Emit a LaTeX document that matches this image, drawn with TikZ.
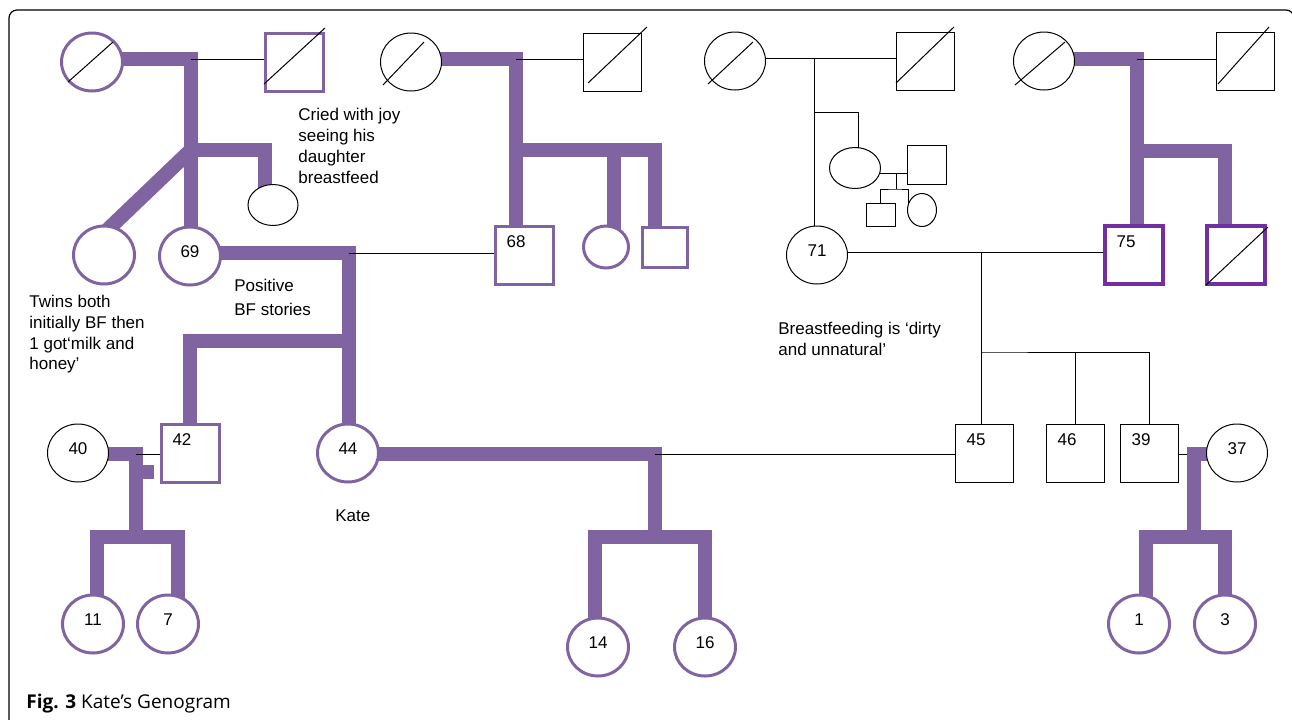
\documentclass[tikz,border=0pt]{standalone}
\usepackage{fontspec}
\setmainfont{Liberation Sans}
\newfontfamily\capfont{Open Sans}
\usetikzlibrary{shapes.geometric,backgrounds,calc}
\definecolor{famline}{HTML}{8064A2}
\definecolor{deep}{HTML}{7030A0}

\begin{document}
\begin{tikzpicture}[x=0.5pt, y=-0.5pt, font=\fontsize{8.5}{10.5}\selectfont,
      fem/.style={ellipse, draw, fill=white, inner sep=0pt, minimum width=30.5pt, minimum height=29pt, line width=0.5pt},
      pfem/.style={fem, draw=famline, line width=1.5pt},
      mal/.style={rectangle, draw, fill=white, inner sep=0pt, minimum size=29pt, line width=0.5pt},
      pmal/.style={mal, draw=famline, line width=1.5pt},
      dmal/.style={mal, draw=deep, line width=1.8pt},
      age/.style={label={[yshift=2pt]center:#1}},
      sqage/.style={label={[xshift=-4pt, yshift=6.5pt]center:#1}},
      fam/.style={draw=famline, line width=7.3pt},
      ln/.style={draw, line width=0.5pt},
      slash/.style={draw, line width=0.5pt},
      note/.style={anchor=north west, align=left, inner sep=0pt}]
      \useasboundingbox (0,0) rectangle (1292,719);
      \draw[line width=0.6pt, rounded corners=4pt] (9,730) -- (9,10) -- (1294,10) -- (1294,730);

      % Kate's mother's side
      \node[pfem] (kgm)  at (92,62)   {};
      \node[pmal] (kgf)  at (294,62)  {};
      \node[pfem] (twin) at (104,255) {};
      \node[pfem, age=69] (mum) at (190,256) {};
      \node[fem, minimum width=25pt, minimum height=20.5pt] (aunt) at (273,205) {};
      % Kate's father's side
      \node[fem] (pgm) at (411,62)  {};
      \node[mal] (pgf) at (612,62)  {};
      \node[pmal, sqage=68] (dad) at (524,255) {};
      \node[pfem, minimum width=22.5pt, minimum height=21pt] (dsis) at (606,247) {};
      \node[pmal, minimum width=22.5pt, minimum height=20pt] (dbro) at (665,247.5) {};
      % husband's mother's side
      \node[fem] (hgm1) at (735,61)  {};
      \node[mal] (hgf1) at (925,61)  {};
      \node[fem, age=71] (hmum) at (817,255) {};
      \node[fem, minimum width=25.5pt, minimum height=20.5pt] (haunt) at (855,168) {};
      \node[mal, minimum size=19.5pt] (hunc) at (927,165) {};
      \node[mal, minimum width=14.5pt, minimum height=11.5pt] (hcous1) at (881,215) {};
      \node[fem, minimum width=14.5pt, minimum height=16.5pt] (hcous2) at (922,210) {};
      % husband's father's side
      \node[fem]  (hgm2)   at (1044,61)  {};
      \node[mal]  (hgf2)   at (1245,61)  {};
      \node[dmal, sqage=75] (hdad) at (1134,255) {};
      \node[dmal] (huncle) at (1236,255) {};
      % Kate's generation
      \node[fem, age=40]   (wife40) at (78,453)   {};
      \node[pmal, sqage=42] (bro42) at (190,453)  {};
      \node[pfem, age=44]  (kate)   at (348,453)  {};
      \node[mal, sqage=45] (husb45) at (984,453)  {};
      \node[mal, sqage=46] (bil46)  at (1075,453) {};
      \node[mal, sqage=39] (bil39)  at (1149,453) {};
      \node[fem, age=37]   (sil37)  at (1237,453) {};
      % children
      \node[pfem, age=11] (k11) at (93,624)   {};
      \node[pfem, age=7]  (k7)  at (168,624)  {};
      \node[pfem, age=14] (k14) at (598,647)  {};
      \node[pfem, age=16] (k16) at (705,647)  {};
      \node[pfem, age=1]  (k1)  at (1139,624) {};
      \node[pfem, age=3]  (k3)  at (1225,624) {};

      % deceased
      \draw[slash] ([shift={(-24,20)}]kgm.center)  -- ([shift={(21,-20)}]kgm.center);
      \draw[slash] ([shift={(-28,23)}]pgm.center)  -- ([shift={(13,-20)}]pgm.center);
      \draw[slash] ([shift={(-27,23)}]hgm1.center) -- ([shift={(18,-19)}]hgm1.center);
      \draw[slash] ([shift={(-29,24)}]hgm2.center) -- ([shift={(21,-19)}]hgm2.center);
      \draw[slash] ([shift={(-30,22)}]kgf.center)  -- ([shift={(31,-34)}]kgf.center);
      \draw[slash] ([shift={(-24,21)}]pgf.center)  -- ([shift={(35,-35)}]pgf.center);
      \draw[slash] ([shift={(-29,22)}]hgf1.center) -- ([shift={(29,-34)}]hgf1.center);
      \draw[slash] ([shift={(-27,23)}]hgf2.center) -- ([shift={(24,-34)}]hgf2.center);
      \draw[slash] ([shift={(-30,30)}]huncle.center) -- ([shift={(32,-28)}]huncle.center);

      \begin{scope}[on background layer]
        \coordinate (jA) at (191,59);   \coordinate (jB) at (191,150);
        \draw[fam] (kgm.center |- jA) -- (jA) -- (jA |- mum.center);
        \draw[ln] (jA) -- (kgf.center |- jA);
        \draw[fam] (jB) -| ([xshift=-4pt]aunt.center);
        \coordinate (jTw) at (100,237);
        \draw[fam] (jB) -- (jTw);

        \coordinate (jC) at (349,253);  \coordinate (jD) at (349,341);
        \draw[fam] (mum.center |- jC) -- (jC) -- (jC |- kate.center);
        \draw[ln] (jC) -- (dad.center |- jC);
        \draw[fam] (jD) -| (bro42);

        \coordinate (jE) at (516,59);   \coordinate (jF) at (516,150);
        \draw[fam] (pgm.center |- jE) -- (jE) -- (jE |- dad.center);
        \draw[ln] (jE) -- (pgf.center |- jE);
        \draw[fam] (jF) -| ([xshift=4pt]dsis.center);
        \draw[fam] (jF) -| ([xshift=-5pt]dbro.center);

        \coordinate (jG) at (814,58);   \coordinate (jH) at (814,112);
        \draw[ln] (hgm1.center |- jG) -- (hgf1.center |- jG);
        \draw[ln] (jG) -- (jG |- hmum.center);
        \draw[ln] (jH) -| ([xshift=1.5pt]haunt.center);
        \coordinate (jI) at (896,173);  \coordinate (jJ) at (896,189);
        \draw[ln] (haunt.center |- jI) -- (hunc.center |- jI);
        \draw[ln] (jI) -- (jJ);
        \draw[ln] ([xshift=-0.5pt]hcous1.center) |- (jJ) -| ([xshift=-7pt]hcous2.center);

        \coordinate (jK) at (981,252);  \coordinate (jL) at (981,352);
        \draw[ln] (hmum.center |- jK) -- (hdad.center |- jK);
        \draw[ln] (jK) -- (jK |- husb45.center);
        \draw[ln] (bil46) |- (jL) -| (bil39);

        \coordinate (jM) at (1137,59);  \coordinate (jN) at (1137,151);
        \draw[fam] (hgm2.center |- jM) -- (jM) -- (jM |- hdad.center);
        \draw[ln] (jM) -- (hgf2.center |- jM);
        \draw[fam] (jN) -| ([xshift=-5.5pt]huncle.center);

        \coordinate (jO) at (655,454);  \coordinate (jP) at (655,537);
        \draw[fam] (kate.center |- jO) -- (jO) -- (jP);
        \draw[ln] (jO) -- (husb45.center |- jO);
        \draw[fam] ([xshift=-1.5pt]k14.center) |- (jP) -| (k16);

        \coordinate (jQ) at (136,454);  \coordinate (jR) at (136,537);
        \coordinate (jS) at (136,472);  \coordinate (jS2) at (154,472);
        \draw[fam] (wife40.center |- jQ) -- (jQ) -- (jR);
        \draw[ln] (jQ) -- (bro42.center |- jQ);
        \draw[fam] (jS) -- (jS2);
        \draw[fam] ([xshift=2pt]k11.center) |- (jR) -| ([xshift=5pt]k7.center);

        \coordinate (jT) at (1194,454); \coordinate (jU) at (1194,537);
        \draw[ln] (bil39.center |- jT) -- (jT);
        \draw[fam] (sil37.center |- jT) -- (jT) -- (jU);
        \draw[fam] ([xshift=3.5pt]k1.center) |- (jU) -| (k3);
      \end{scope}

      % notes
      \node[note] (cry) at (298,108) {Cried with joy\\seeing his\\daughter\\breastfeed};
      \node[note, font=\fontsize{8.5}{12}\selectfont] (bfpos) at (234,279) {Positive\\BF stories};
      \node[note, font=\fontsize{8.5}{10.35}\selectfont] (twinsnote) at (29,295) {Twins both\\initially BF then\\1 got‘milk and\\honey’};
      \node[note] (katename) at (335,509) {Kate};
      \node[note] (dirty) at (778,322) {Breastfeeding is ‘dirty\\and unnatural’};
      \node[anchor=base west, inner sep=0pt, font=\capfont\fontsize{9.5}{11}\selectfont] (cap) at (26,708) {\textbf{Fig. 3} Kate’s Genogram};
    \end{tikzpicture}
\end{document}
